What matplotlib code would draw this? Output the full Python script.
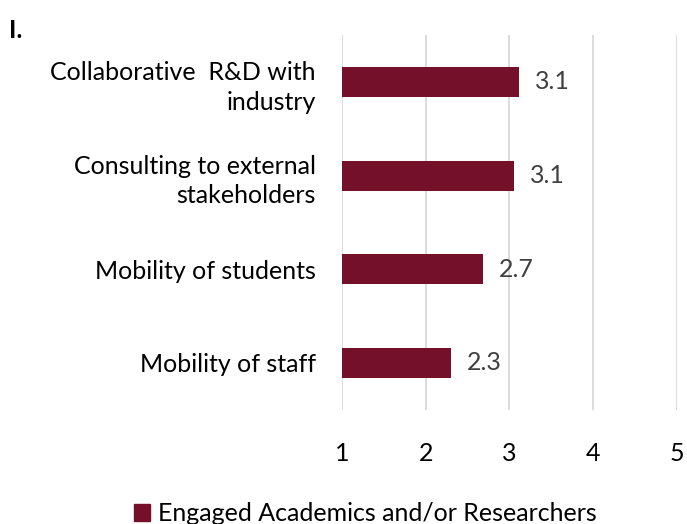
import matplotlib
matplotlib.use("Agg")
from matplotlib import pyplot as plt
from matplotlib.patches import Patch

plt.rcParams['font.family'] = ['Lato', 'DejaVu Sans']

# 数据
categories = ['Collaborative  R&D with\nindustry',
              'Consulting to external\nstakeholders',
              'Mobility of students',
              'Mobility of staff']
values = [3.11, 3.06, 2.68, 2.30]
series_name = 'Engaged Academics and/or Researchers'
ticks = [1, 2, 3, 4, 5]

bar_color = '#741029'

fig = plt.figure(figsize=(6.87, 5.24), dpi=100)
ax = fig.add_axes([0.498, 0.218, 0.487, 0.715])

ypos = list(range(len(categories)))
ax.barh(ypos, [v - 1 for v in values], left=1, height=0.32, color=bar_color)
for y, v in zip(ypos, values):
    ax.text(v + 0.19, y, '%.1f' % v, va='center', ha='left', fontsize=18, color='#404040')

ax.set_xlim(1, 5)
ax.set_ylim(len(categories) - 0.5, -0.5)
ax.set_xticks(ticks)
ax.set_xticklabels([str(t) for t in ticks], fontsize=18, color='#000000')
ax.set_yticks(ypos)
ax.set_yticklabels(categories, fontsize=18, ha='right', linespacing=1.35)
ax.tick_params(axis='both', length=0)
ax.tick_params(axis='x', pad=23)
ax.tick_params(axis='y', pad=19)
ax.xaxis.grid(True, color='#d9d9d9', linewidth=1.3)
ax.set_axisbelow(True)
for s in ax.spines.values():
    s.set_visible(False)

fig.text(0.013, 0.942, 'I.', fontsize=18, fontweight='bold', va='center')

fig.legend(handles=[Patch(color=bar_color)], labels=[series_name],
           loc='center', bbox_to_anchor=(0.532, 0.02), frameon=False,
           fontsize=18, handlelength=0.65, handleheight=0.65, handletextpad=0.3)

plt.savefig('out.png', dpi=100)
